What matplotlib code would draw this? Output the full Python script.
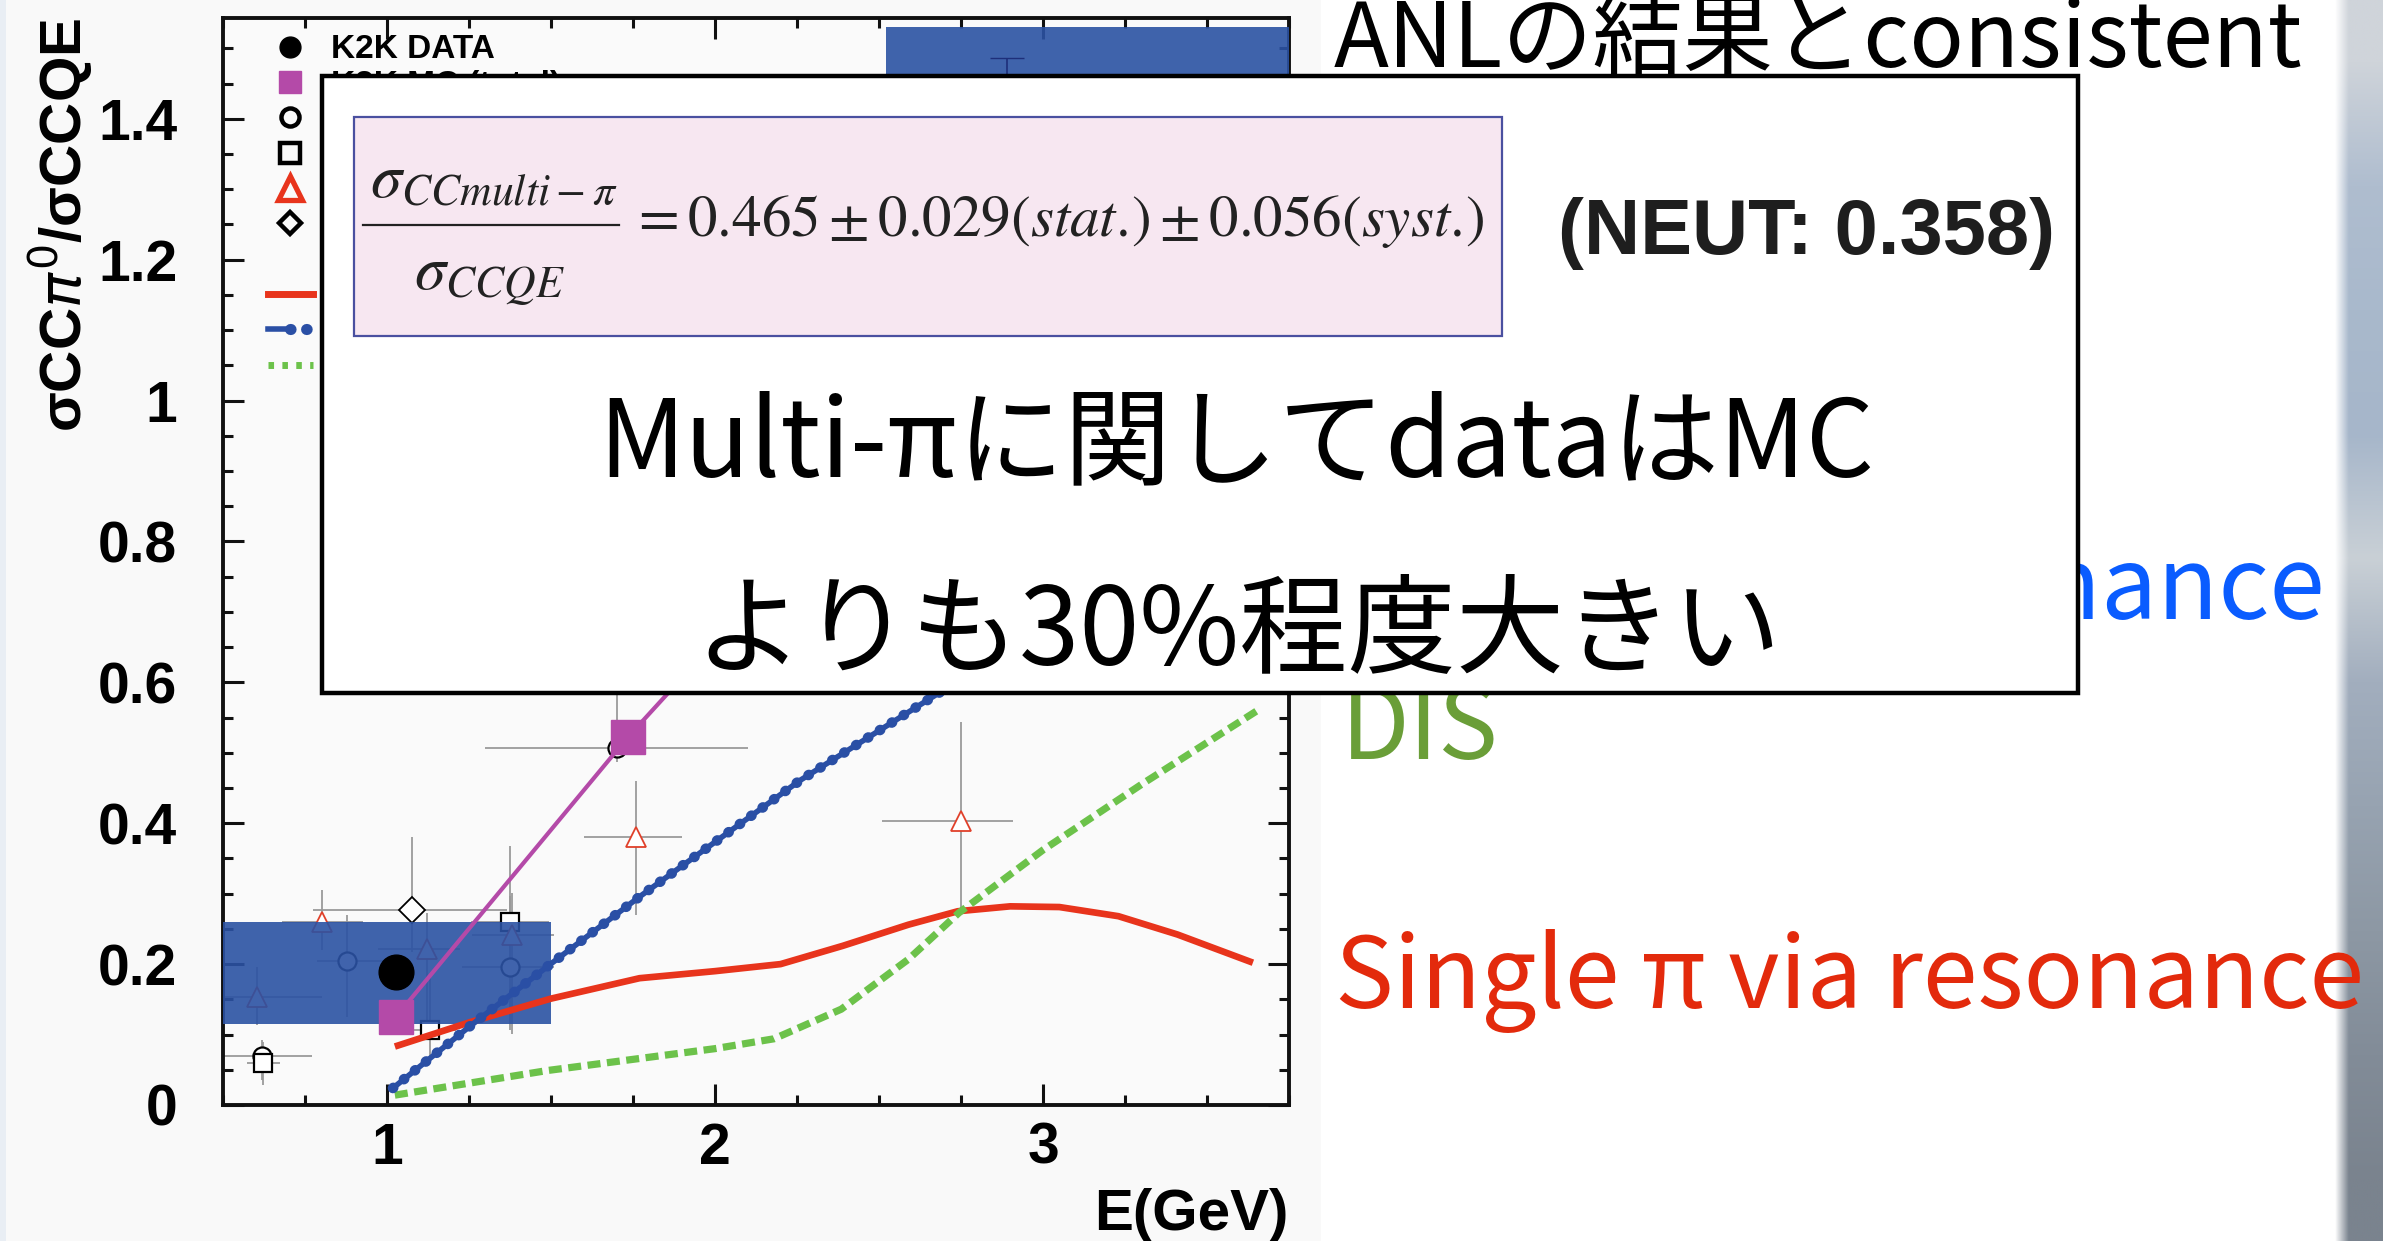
import numpy as np
from matplotlib import pyplot as plt
from matplotlib.lines import Line2D
from matplotlib.patches import Rectangle
from matplotlib.legend_handler import HandlerTuple
from matplotlib.ticker import FuncFormatter, MultipleLocator

# ---- model curves ----
single_pi_x = [1.024, 1.256, 1.5, 1.77, 2.0, 2.2, 2.39, 2.59, 2.74, 2.9, 3.05, 3.23, 3.41, 3.64]
single_pi_y = [0.083, 0.118, 0.151, 0.180, 0.190, 0.200, 0.226, 0.256, 0.275, 0.282, 0.281, 0.268, 0.242, 0.202]

multi_pi_x = [1.018, 1.256, 1.507, 1.771, 2.26, 2.70, 3.2]
multi_pi_y = [0.024, 0.113, 0.203, 0.296, 0.461, 0.590, 0.750]

dis_x = [1.024, 1.49, 2.0, 2.18, 2.385, 2.59, 2.744, 3.0, 3.3, 3.657]
dis_y = [0.014, 0.049, 0.080, 0.094, 0.136, 0.207, 0.273, 0.362, 0.455, 0.561]

# ---- K2K data / MC ----
k2k_x = [1.027]
k2k_y = [0.189]
mc_x = [1.027, 1.734, 2.75]
mc_y = [0.125, 0.522, 1.04]

# ---- other experiments ----
circ_x = [0.62, 0.877, 1.375, 1.70]
circ_y = [0.069, 0.204, 0.196, 0.507]
circ_xerr = [[0.12, 0.09, 0.145, 0.40], [0.15, 0.125, 0.135, 0.40]]
circ_yerr = [[0.034, 0.079, 0.09, 0.02], [0.023, 0.066, 0.10, 0.12]]

sq_x = [0.623, 1.131, 1.375]
sq_y = [0.059, 0.106, 0.26]
sq_xerr = [[0.05, 0.08, 0.12], [0.05, 0.08, 0.12]]
sq_yerr = [[0.03, 0.044, 0.06], [0.03, 0.079, 0.107]]

tri_x = [0.603, 0.801, 1.123, 1.38, 1.76, 2.75]
tri_y = [0.154, 0.26, 0.222, 0.241, 0.38, 0.403]
tri_xerr = [[0.10, 0.12, 0.15, 0.12, 0.16, 0.24], [0.20, 0.127, 0.10, 0.13, 0.14, 0.16]]
tri_yerr = [[0.04, 0.04, 0.12, 0.14, 0.11, 0.13], [0.042, 0.045, 0.05, 0.06, 0.08, 0.14]]

dia_x = [1.075]
dia_y = [0.277]
dia_xerr = [[0.30], [0.29]]
dia_yerr = [[0.06], [0.103]]

# ---- blue bands ----
band_x0 = [0.5, 2.52]
band_x1 = [1.5, 3.75]
band_y0 = [0.115, 1.34]
band_y1 = [0.26, 1.53]
band_pt_x = [2.889]
band_pt_y = [1.42]
band_pt_err = [0.066]

legend_labels = ['K2K DATA', 'K2K MC (total)', 'ANL', 'BNL', 'Gargamelle', 'SKAT', ' ',
                 'Single π', 'Multi π', 'DIS']

strip_colors = ['#cfd4da', '#afbdcf', '#a9b9cc', '#a6b6ca', '#c9d0d6',
                '#a2aebe', '#97a3b1', '#8d98a4', '#828c98', '#7a838e']

RED = '#e8341c'
BLUE = '#2a4fa5'
GREEN = '#6cc24a'
MAGENTA = '#b44aa8'
BAND = '#2b52a3'
GRAY = '#9a9a9a'

W, H = 2383.0, 1241.0

plt.rc('font', family=['Liberation Sans', 'DejaVu Sans'])
cjk = ['Noto Sans CJK JP', 'DejaVu Sans']

fig = plt.figure(figsize=(W / 100, H / 100), dpi=100, facecolor='white')

# background of the pasted plot image
fig.patches.append(Rectangle((6 / W, 0), (1321 - 6) / W, 1, transform=fig.transFigure,
                             fc='#f9f9f9', ec='none', zorder=-2))
fig.patches.append(Rectangle((0, 0), 6 / W, 1, transform=fig.transFigure,
                             fc='#e9eef4', ec='none', zorder=-2))

ax = fig.add_axes([223 / W, 1 - 1105 / H, 1066 / W, 1087 / H])
ax.set_facecolor('#fafafa')

# error bars + open markers
ax.errorbar(circ_x, circ_y, xerr=circ_xerr, yerr=circ_yerr, fmt='o', ms=13, mfc='white',
            mec='black', mew=1.6, ecolor=GRAY, elinewidth=1.3, zorder=2)
ax.errorbar(sq_x, sq_y, xerr=sq_xerr, yerr=sq_yerr, fmt='s', ms=13, mfc='white',
            mec='black', mew=1.6, ecolor=GRAY, elinewidth=1.3, zorder=2)
ax.errorbar(tri_x, tri_y, xerr=tri_xerr, yerr=tri_yerr, fmt='^', ms=15, mfc='white',
            mec='#e0402a', mew=1.3, ecolor=GRAY, elinewidth=1.3, zorder=2)
ax.errorbar(dia_x, dia_y, xerr=dia_xerr, yerr=dia_yerr, fmt='D', ms=13, mfc='white',
            mec='black', mew=1.3, ecolor=GRAY, elinewidth=1.3, zorder=2)

# bands
ax.bar(band_x0, np.subtract(band_y1, band_y0), width=np.subtract(band_x1, band_x0),
       bottom=band_y0, align='edge', color=BAND, alpha=0.9, lw=0, zorder=3)
ax.errorbar(band_pt_x, band_pt_y, yerr=band_pt_err, fmt='none', ecolor='#1e2f7a',
            elinewidth=1.2, capsize=12, zorder=3.2)

# model curves
ax.plot(single_pi_x, single_pi_y, color=RED, lw=4.8, solid_capstyle='butt', zorder=4)
ax.plot(dis_x, dis_y, color=GREEN, lw=5.2, dashes=[1.8, 0.9], zorder=4.2)
ax.plot(multi_pi_x, multi_pi_y, color=BLUE, lw=4, zorder=4.5)
ax.plot(multi_pi_x, multi_pi_y, color=BLUE, lw=7.5, ls=(0, (0.05, 1.3)),
        dash_capstyle='round', zorder=4.5)

# K2K MC and data
ax.plot(mc_x, mc_y, color=MAGENTA, lw=3, zorder=5)
ax.plot(mc_x, mc_y, ls='none', marker='s', ms=25, color=MAGENTA, zorder=5.5)
ax.plot(k2k_x, k2k_y, ls='none', marker='o', ms=25, color='black', zorder=6)

ax.set_xlim(0.5, 3.75)
ax.set_ylim(0, 1.543)
ax.xaxis.set_major_locator(MultipleLocator(1))
ax.xaxis.set_minor_locator(MultipleLocator(0.25))
ax.yaxis.set_major_locator(MultipleLocator(0.2))
ax.yaxis.set_minor_locator(MultipleLocator(0.05))
ax.yaxis.set_major_formatter(FuncFormatter(lambda v, p: '%g' % round(v, 3)))
ax.xaxis.set_major_formatter(FuncFormatter(lambda v, p: '%g' % v))
ax.tick_params(which='both', direction='in', top=True, right=True, width=2.2, color='#111111')
ax.tick_params(which='major', length=15)
ax.tick_params(which='minor', length=7)
ax.tick_params(axis='y', which='major', pad=33, labelsize=41)
ax.tick_params(axis='x', which='major', pad=12, labelsize=41)
for lab in ax.get_xticklabels() + ax.get_yticklabels():
    lab.set_fontweight('bold')
for sp in ax.spines.values():
    sp.set_linewidth(2.8)
    sp.set_color('#111111')

ax.set_ylabel('σCC$\\pi^{0}$/σCCQE', fontsize=42, fontweight='bold', loc='top', labelpad=2)
ax.set_xlabel('E(GeV)', fontsize=42, fontweight='bold', loc='right', labelpad=9)

# legend
h_data = Line2D([], [], ls='none', marker='o', ms=15, color='black')
h_mc = Line2D([], [], ls='none', marker='s', ms=16, color=MAGENTA)
h_circ = Line2D([], [], ls='none', marker='o', ms=13, mfc='none', mec='black', mew=3.2)
h_sq = Line2D([], [], ls='none', marker='s', ms=14, mfc='none', mec='black', mew=3.2)
h_tri = Line2D([], [], ls='none', marker='^', ms=17, mfc='none', mec='#e8341c', mew=3.8)
h_dia = Line2D([], [], ls='none', marker='D', ms=11, mfc='none', mec='black', mew=3.2)
h_blank = Line2D([], [], ls='none')
h_red = Line2D([], [], color=RED, lw=5)
h_blue = (Line2D([], [], color=BLUE, lw=4),
          Line2D([], [], color=BLUE, lw=8, ls=(0, (0.05, 1.4)), dash_capstyle='round'))
h_green = Line2D([], [], color=GREEN, lw=5, dashes=[0.8, 1.2])
leg = ax.legend([h_data, h_mc, h_circ, h_sq, h_tri, h_dia, h_blank, h_red, h_blue, h_green],
                legend_labels, loc='upper left', bbox_to_anchor=(0.042, 0.985), frameon=False,
                borderpad=0, borderaxespad=0, handlelength=1.35, handletextpad=0.55,
                labelspacing=0.13, fontsize=24, handler_map={tuple: HandlerTuple(ndivide=None)})
for t in leg.get_texts():
    t.set_fontweight('bold')

# side notes on the slide (partly covered by the box)
fig.text(1334 / W, 1 - 67 / H, 'ANLの結果とconsistent', fontsize=65, family=cjk,
         ha='left', va='baseline', zorder=2)
fig.text(2325 / W, 1 - 619 / H, 'Multi π via resonance', fontsize=72, family=cjk,
         color='#0a5cff', ha='right', va='baseline', zorder=2)
fig.text(1341 / W, 1 - 759 / H, 'DIS', fontsize=72, family=cjk, color='#6a9e38',
         ha='left', va='baseline', zorder=2)
fig.text(1335 / W, 1 - 1008 / H, 'Single π via resonance', fontsize=71, family=cjk,
         color='#e32a0c', ha='left', va='baseline', zorder=2)

# overlay box
fig.patches.append(Rectangle((322 / W, 1 - 693 / H), (2078 - 322) / W, (693 - 76) / H,
                             transform=fig.transFigure, fc='white', ec='black', lw=3.2, zorder=5))
fig.patches.append(Rectangle((354 / W, 1 - 336 / H), (1502 - 354) / W, (336 - 117) / H,
                             transform=fig.transFigure, fc='#f7e7f1', ec='#4a50a0', lw=1.6, zorder=6))
ink = '#222222'
fig.text(370 / W, 1 - 197 / H, r'$\sigma_{CCmulti-\pi}$', fontsize=45, math_fontfamily='stix',
         color=ink, ha='left', va='baseline', zorder=7)
fig.lines.append(Line2D([363 / W, 619 / W], [1 - 225 / H, 1 - 225 / H], transform=fig.transFigure,
                        color=ink, lw=1.6, zorder=7))
fig.text(414 / W, 1 - 290 / H, r'$\sigma_{CCQE}$', fontsize=45, math_fontfamily='stix',
         color=ink, ha='left', va='baseline', zorder=7)
fig.text(630 / W, 1 - 236 / H, r'$= 0.465 \pm 0.029(stat.\!) \pm 0.056(syst.\!)$',
         fontsize=42.5, math_fontfamily='stix', color=ink, ha='left', va='baseline', zorder=7)
fig.text(1558 / W, 1 - 233 / H, '(NEUT: 0.358)', fontsize=56, fontweight='bold',
         color='#1e1e1e', ha='left', va='center', zorder=7)
fig.text(1236 / W, 1 - 476 / H, 'Multi-πに関してdataはMC', fontsize=77, family=cjk,
         ha='center', va='baseline', zorder=7)
fig.text(1238 / W, 1 - 664 / H, 'よりも30%程度大きい', fontsize=78, family=cjk,
         ha='center', va='baseline', zorder=7)

# blurred photo strip at the right edge
sax = fig.add_axes([2335 / W, 0, 48 / W, 1])
cols = np.array([[int(c[i:i + 2], 16) / 255 for i in (1, 3, 5)] for c in strip_colors])
img = np.stack([np.ones_like(cols), cols, cols, cols], axis=1)
sax.imshow(img, aspect='auto', interpolation='bilinear', extent=(0, 1, 0, 1))
sax.set_xlim(0.12, 1)
sax.axis('off')

fig.savefig('out.png', dpi=100)
